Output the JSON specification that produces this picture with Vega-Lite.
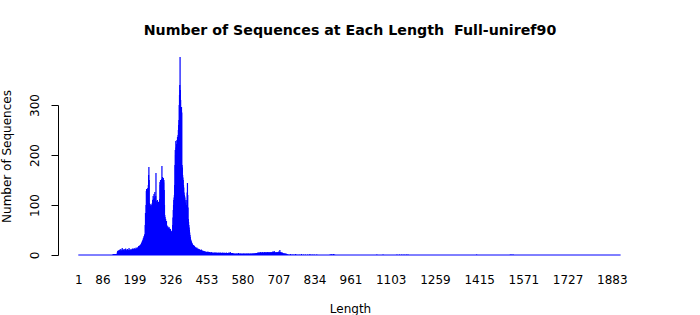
{
"$schema":"https://vega.github.io/schema/vega-lite/v6.json",
"autosize":{"type":"none"},
"padding":{"left":58,"top":105,"right":58,"bottom":60},
"width":584,
"height":150,
"config":{"font":"DejaVu Sans","view":{"stroke":null},"background":"white"},
"title":{"text":"Number of Sequences at Each Length\u00a0 Full-uniref90","fontSize":14.2,"fontWeight":"bold","color":"black","anchor":"middle","offset":19},
"layer":[
{"data":{"values":[{"from":1,"to":1914}]},
 "mark":{"type":"rule","color":"#0000ff","strokeWidth":1},
 "encoding":{"x":{"field":"from","type":"quantitative","scale":{"domain":[-70.6,1989.4],"nice":false,"zero":false,"padding":0}},"x2":{"field":"to"},"y":{"datum":0,"type":"quantitative"}}},
{"data":{"values":[
{"len":124,"n":2},{"len":125,"n":1},{"len":126,"n":2},{"len":127,"n":2},{"len":128,"n":1},{"len":129,"n":2},{"len":130,"n":2},{"len":131,"n":1},{"len":132,"n":2},{"len":133,"n":2},{"len":134,"n":1},{"len":135,"n":2},{"len":136,"n":2},{"len":137,"n":2},{"len":138,"n":3},
{"len":139,"n":6},{"len":140,"n":8},{"len":141,"n":7},{"len":142,"n":9},{"len":143,"n":6},{"len":144,"n":8},{"len":145,"n":10},{"len":146,"n":7},{"len":147,"n":9},{"len":148,"n":11},{"len":149,"n":8},{"len":150,"n":7},{"len":151,"n":12},{"len":152,"n":9},{"len":153,"n":6},{"len":154,"n":8},{"len":155,"n":10},{"len":156,"n":14},{"len":157,"n":9},{"len":158,"n":7},{"len":159,"n":8},{"len":160,"n":11},{"len":161,"n":6},{"len":162,"n":9},{"len":163,"n":12},{"len":164,"n":8},{"len":165,"n":7},{"len":166,"n":10},{"len":167,"n":9},{"len":168,"n":13},{"len":169,"n":8},{"len":170,"n":7},{"len":171,"n":9},{"len":172,"n":11},{"len":173,"n":8},{"len":174,"n":10},{"len":175,"n":12},{"len":176,"n":7},{"len":177,"n":9},{"len":178,"n":8},{"len":179,"n":10},{"len":180,"n":14},{"len":181,"n":9},{"len":182,"n":8},{"len":183,"n":11},{"len":184,"n":10},{"len":185,"n":7},{"len":186,"n":9},{"len":187,"n":12},{"len":188,"n":10},{"len":189,"n":8},{"len":190,"n":11},{"len":191,"n":9},{"len":192,"n":13},{"len":193,"n":10},{"len":194,"n":8},{"len":195,"n":12},{"len":196,"n":11},{"len":197,"n":9},{"len":198,"n":14},{"len":199,"n":12},{"len":200,"n":10},{"len":201,"n":11},{"len":202,"n":13},{"len":203,"n":12},{"len":204,"n":10},{"len":205,"n":15},{"len":206,"n":12},{"len":207,"n":11},{"len":208,"n":14},{"len":209,"n":13},{"len":210,"n":12},{"len":211,"n":15},
{"len":212,"n":16},{"len":213,"n":14},{"len":214,"n":18},{"len":215,"n":17},{"len":216,"n":15},{"len":217,"n":19},{"len":218,"n":18},{"len":219,"n":16},{"len":220,"n":20},{"len":221,"n":19},{"len":222,"n":22},{"len":223,"n":18},{"len":224,"n":24},{"len":225,"n":21},
{"len":226,"n":26},{"len":227,"n":28},{"len":228,"n":25},{"len":229,"n":30},{"len":230,"n":33},{"len":231,"n":29},{"len":232,"n":35},{"len":233,"n":38},{"len":234,"n":34},{"len":235,"n":40},{"len":236,"n":42},
{"len":237,"n":60},{"len":238,"n":84},{"len":239,"n":80},{"len":240,"n":100},
{"len":241,"n":128},{"len":242,"n":132},{"len":243,"n":120},{"len":244,"n":131},{"len":245,"n":126},{"len":246,"n":134},{"len":247,"n":129},{"len":248,"n":140},
{"len":249,"n":160},{"len":250,"n":176},{"len":251,"n":150},
{"len":252,"n":104},{"len":253,"n":96},{"len":254,"n":100},{"len":255,"n":92},{"len":256,"n":98},{"len":257,"n":102},{"len":258,"n":90},{"len":259,"n":95},{"len":260,"n":100},{"len":261,"n":93},{"len":262,"n":104},
{"len":263,"n":110},{"len":264,"n":106},{"len":265,"n":118},{"len":266,"n":112},{"len":267,"n":104},{"len":268,"n":122},{"len":269,"n":108},{"len":270,"n":115},{"len":271,"n":126},{"len":272,"n":110},{"len":273,"n":105},{"len":274,"n":118},
{"len":275,"n":164},
{"len":276,"n":108},{"len":277,"n":100},{"len":278,"n":96},{"len":279,"n":104},{"len":280,"n":110},{"len":281,"n":98},{"len":282,"n":94},{"len":283,"n":102},{"len":284,"n":106},{"len":285,"n":97},{"len":286,"n":100},{"len":287,"n":108},{"len":288,"n":112},
{"len":289,"n":146},{"len":290,"n":140},{"len":291,"n":150},{"len":292,"n":142},{"len":293,"n":148},{"len":294,"n":138},{"len":295,"n":152},{"len":296,"n":178},
{"len":297,"n":150},{"len":298,"n":156},{"len":299,"n":144},{"len":300,"n":148},{"len":301,"n":154},{"len":302,"n":145},{"len":303,"n":150},{"len":304,"n":130},{"len":305,"n":100},
{"len":306,"n":80},{"len":307,"n":76},{"len":308,"n":70},{"len":309,"n":72},{"len":310,"n":66},{"len":311,"n":64},{"len":312,"n":68},{"len":313,"n":60},{"len":314,"n":58},
{"len":315,"n":55},{"len":316,"n":52},{"len":317,"n":57},{"len":318,"n":50},{"len":319,"n":54},{"len":320,"n":51},{"len":321,"n":56},{"len":322,"n":49},{"len":323,"n":53},{"len":324,"n":50},{"len":325,"n":48},{"len":326,"n":52},
{"len":327,"n":46},{"len":328,"n":48},{"len":329,"n":45},{"len":330,"n":47},{"len":331,"n":44},{"len":332,"n":48},{"len":333,"n":50},
{"len":334,"n":60},{"len":335,"n":75},{"len":336,"n":90},{"len":337,"n":100},{"len":338,"n":110},{"len":339,"n":115},{"len":340,"n":120},{"len":341,"n":140},
{"len":342,"n":180},{"len":343,"n":210},{"len":344,"n":200},{"len":345,"n":228},
{"len":346,"n":215},{"len":347,"n":210},{"len":348,"n":222},{"len":349,"n":230},{"len":350,"n":218},{"len":351,"n":236},{"len":352,"n":232},
{"len":353,"n":240},{"len":354,"n":250},{"len":355,"n":260},{"len":356,"n":270},{"len":357,"n":300},{"len":358,"n":320},{"len":359,"n":340},
{"len":360,"n":396},{"len":361,"n":330},{"len":362,"n":310},{"len":363,"n":295},{"len":364,"n":290},{"len":365,"n":296},{"len":366,"n":285},
{"len":367,"n":180},{"len":368,"n":175},{"len":369,"n":160},{"len":370,"n":155},
{"len":371,"n":150},{"len":372,"n":140},{"len":373,"n":135},{"len":374,"n":125},{"len":375,"n":120},{"len":376,"n":118},{"len":377,"n":115},
{"len":378,"n":110},{"len":379,"n":105},{"len":380,"n":100},{"len":381,"n":98},{"len":382,"n":95},{"len":383,"n":100},{"len":384,"n":110},
{"len":385,"n":125},{"len":386,"n":144},{"len":387,"n":120},{"len":388,"n":95},
{"len":389,"n":72},{"len":390,"n":66},{"len":391,"n":60},{"len":392,"n":55},{"len":393,"n":50},{"len":394,"n":45},{"len":395,"n":40},
{"len":396,"n":36},{"len":397,"n":32},{"len":398,"n":30},{"len":399,"n":28},{"len":400,"n":26},{"len":401,"n":25},{"len":402,"n":24},{"len":403,"n":22},{"len":404,"n":21},{"len":405,"n":20},
{"len":406,"n":19},{"len":407,"n":18},{"len":408,"n":20},{"len":409,"n":17},{"len":410,"n":16},{"len":411,"n":18},{"len":412,"n":15},{"len":413,"n":16},{"len":414,"n":14},{"len":415,"n":15},{"len":416,"n":13},{"len":417,"n":14},{"len":418,"n":12},{"len":419,"n":15},{"len":420,"n":13},{"len":421,"n":12},{"len":422,"n":11},{"len":423,"n":13},{"len":424,"n":12},{"len":425,"n":10},{"len":426,"n":11},{"len":427,"n":12},{"len":428,"n":10},{"len":429,"n":11},{"len":430,"n":10},
{"len":431,"n":9},{"len":432,"n":10},{"len":433,"n":8},{"len":434,"n":9},{"len":435,"n":11},{"len":436,"n":8},{"len":437,"n":9},{"len":438,"n":7},{"len":439,"n":8},{"len":440,"n":9},{"len":441,"n":7},{"len":442,"n":8},
{"len":443,"n":6},{"len":444,"n":7},{"len":445,"n":5},{"len":446,"n":6},{"len":447,"n":8},{"len":448,"n":5},{"len":449,"n":6},{"len":450,"n":4},{"len":451,"n":7},{"len":452,"n":5},{"len":453,"n":6},{"len":454,"n":5},{"len":455,"n":4},{"len":456,"n":6},{"len":457,"n":5},{"len":458,"n":7},{"len":459,"n":4},{"len":460,"n":5},{"len":461,"n":6},{"len":462,"n":4},{"len":463,"n":5},{"len":464,"n":6},{"len":465,"n":4},{"len":466,"n":5},{"len":467,"n":3},{"len":468,"n":5},{"len":469,"n":4},{"len":470,"n":6},{"len":471,"n":4},{"len":472,"n":5},{"len":473,"n":3},{"len":474,"n":4},{"len":475,"n":5},{"len":476,"n":3},{"len":477,"n":4},
{"len":478,"n":4},{"len":479,"n":5},{"len":480,"n":3},{"len":481,"n":4},{"len":482,"n":5},{"len":483,"n":4},{"len":484,"n":3},{"len":485,"n":5},{"len":486,"n":4},{"len":487,"n":3},{"len":488,"n":4},{"len":489,"n":5},{"len":490,"n":3},{"len":491,"n":4},{"len":492,"n":4},{"len":493,"n":3},{"len":494,"n":5},{"len":495,"n":4},{"len":496,"n":3},{"len":497,"n":4},{"len":498,"n":5},{"len":499,"n":3},{"len":500,"n":4},{"len":501,"n":3},{"len":502,"n":4},{"len":503,"n":5},{"len":504,"n":3},{"len":505,"n":4},{"len":506,"n":3},{"len":507,"n":4},{"len":508,"n":3},{"len":509,"n":5},{"len":510,"n":4},{"len":511,"n":3},{"len":512,"n":4},{"len":513,"n":3},{"len":514,"n":4},{"len":515,"n":5},{"len":516,"n":3},{"len":517,"n":4},{"len":518,"n":3},{"len":519,"n":4},{"len":520,"n":3},{"len":521,"n":4},{"len":522,"n":3},{"len":523,"n":5},{"len":524,"n":4},{"len":525,"n":3},{"len":526,"n":4},{"len":527,"n":3},{"len":528,"n":4},{"len":529,"n":3},{"len":530,"n":4},{"len":531,"n":3},{"len":532,"n":5},{"len":533,"n":4},{"len":534,"n":3},{"len":535,"n":4},{"len":536,"n":3},{"len":537,"n":6},{"len":538,"n":4},{"len":539,"n":3},{"len":540,"n":4},{"len":541,"n":3},{"len":542,"n":4},{"len":543,"n":3},{"len":544,"n":3},{"len":545,"n":4},{"len":546,"n":3},{"len":547,"n":3},
{"len":548,"n":3},{"len":549,"n":2},{"len":550,"n":2},{"len":551,"n":3},{"len":552,"n":2},{"len":553,"n":3},{"len":554,"n":2},{"len":555,"n":2},{"len":556,"n":3},{"len":557,"n":2},{"len":558,"n":2},{"len":559,"n":3},{"len":560,"n":2},{"len":561,"n":3},{"len":562,"n":2},{"len":563,"n":2},{"len":564,"n":3},{"len":565,"n":2},{"len":566,"n":4},{"len":567,"n":2},{"len":568,"n":3},{"len":569,"n":2},{"len":570,"n":2},{"len":571,"n":3},{"len":572,"n":2},{"len":573,"n":3},{"len":574,"n":2},{"len":575,"n":2},{"len":576,"n":3},{"len":577,"n":2},{"len":578,"n":2},{"len":579,"n":3},{"len":580,"n":2},{"len":581,"n":2},{"len":582,"n":3},{"len":583,"n":2},{"len":584,"n":3},{"len":585,"n":2},{"len":586,"n":2},{"len":587,"n":3},{"len":588,"n":2},{"len":589,"n":2},{"len":590,"n":3},{"len":591,"n":2},{"len":592,"n":2},{"len":593,"n":3},{"len":594,"n":2},{"len":595,"n":3},{"len":596,"n":2},{"len":597,"n":2},{"len":598,"n":3},{"len":599,"n":2},{"len":600,"n":2},{"len":601,"n":3},{"len":602,"n":2},{"len":603,"n":3},{"len":604,"n":2},{"len":605,"n":2},{"len":606,"n":3},{"len":607,"n":2},{"len":608,"n":2},{"len":609,"n":3},{"len":610,"n":2},{"len":611,"n":3},{"len":612,"n":2},{"len":613,"n":2},{"len":614,"n":3},{"len":615,"n":2},{"len":616,"n":3},{"len":617,"n":2},{"len":618,"n":3},{"len":619,"n":2},{"len":620,"n":3},{"len":621,"n":3},{"len":622,"n":2},{"len":623,"n":3},{"len":624,"n":3},{"len":625,"n":2},{"len":626,"n":3},{"len":627,"n":3},{"len":628,"n":4},{"len":629,"n":3},{"len":630,"n":3},{"len":631,"n":4},
{"len":632,"n":4},{"len":633,"n":3},{"len":634,"n":5},{"len":635,"n":4},{"len":636,"n":3},{"len":637,"n":5},{"len":638,"n":4},{"len":639,"n":4},{"len":640,"n":5},{"len":641,"n":3},{"len":642,"n":4},{"len":643,"n":6},{"len":644,"n":4},{"len":645,"n":5},{"len":646,"n":3},{"len":647,"n":4},{"len":648,"n":5},{"len":649,"n":4},{"len":650,"n":6},{"len":651,"n":4},{"len":652,"n":5},{"len":653,"n":3},{"len":654,"n":4},{"len":655,"n":5},{"len":656,"n":4},{"len":657,"n":6},{"len":658,"n":5},{"len":659,"n":4},{"len":660,"n":3},{"len":661,"n":5},{"len":662,"n":4},{"len":663,"n":6},{"len":664,"n":5},{"len":665,"n":4},{"len":666,"n":5},{"len":667,"n":3},{"len":668,"n":4},{"len":669,"n":6},{"len":670,"n":5},{"len":671,"n":4},{"len":672,"n":5},{"len":673,"n":4},{"len":674,"n":6},{"len":675,"n":5},{"len":676,"n":4},{"len":677,"n":3},{"len":678,"n":5},{"len":679,"n":4},{"len":680,"n":6},{"len":681,"n":5},{"len":682,"n":4},{"len":683,"n":5},{"len":684,"n":6},{"len":685,"n":4},{"len":686,"n":5},{"len":687,"n":7},{"len":688,"n":5},{"len":689,"n":4},{"len":690,"n":6},{"len":691,"n":5},{"len":692,"n":8},{"len":693,"n":5},{"len":694,"n":4},{"len":695,"n":6},{"len":696,"n":5},{"len":697,"n":4},{"len":698,"n":5},{"len":699,"n":3},{"len":700,"n":4},{"len":701,"n":6},{"len":702,"n":5},{"len":703,"n":4},{"len":704,"n":5},{"len":705,"n":6},{"len":706,"n":4},{"len":707,"n":5},{"len":708,"n":7},{"len":709,"n":5},{"len":710,"n":4},{"len":711,"n":6},{"len":712,"n":10},{"len":713,"n":6},{"len":714,"n":5},{"len":715,"n":4},{"len":716,"n":6},{"len":717,"n":5},{"len":718,"n":4},{"len":719,"n":3},{"len":720,"n":4},{"len":721,"n":5},{"len":722,"n":3},{"len":723,"n":4},
{"len":724,"n":3},{"len":725,"n":2},{"len":726,"n":3},{"len":727,"n":3},{"len":728,"n":2},{"len":729,"n":3},{"len":730,"n":2},{"len":731,"n":3},{"len":732,"n":2},{"len":733,"n":2},{"len":734,"n":3},{"len":735,"n":2},{"len":736,"n":2},{"len":737,"n":1},
{"len":740,"n":2},{"len":745,"n":1},{"len":750,"n":2},{"len":756,"n":1},{"len":761,"n":1},{"len":767,"n":2},{"len":772,"n":1},{"len":780,"n":1},{"len":788,"n":2},{"len":795,"n":1},{"len":802,"n":1},{"len":810,"n":1},{"len":818,"n":2},{"len":826,"n":1},{"len":833,"n":1},{"len":842,"n":1},
{"len":889,"n":1},{"len":893,"n":2},{"len":897,"n":1},{"len":901,"n":2},{"len":905,"n":1},
{"len":1054,"n":1},{"len":1076,"n":1},{"len":1125,"n":1},{"len":1134,"n":1},{"len":1142,"n":1},{"len":1150,"n":1},{"len":1158,"n":1},{"len":1164,"n":1},{"len":1406,"n":1},{"len":1525,"n":1},{"len":1530,"n":1},{"len":1535,"n":1}
]},
 "mark":{"type":"bar","color":"#0000ff","size":1.2},
 "encoding":{
  "x":{"field":"len","type":"quantitative","title":"Length",
       "scale":{"domain":[-70.6,1989.4],"nice":false,"zero":false,"padding":0},
       "axis":{"values":[1,86,199,326,453,580,707,834,961,1103,1259,1415,1571,1727,1883],"format":"d","domain":false,"ticks":false,"tickSize":0,"grid":false,"labelPadding":19,"labelFontSize":12,"labelColor":"black","labelFlush":false,"labelOverlap":false,"titleFontSize":12,"titleFontWeight":"normal","titleColor":"black","titlePadding":18}},
  "y":{"field":"n","type":"quantitative","title":"Number of Sequences",
       "scale":{"domain":[0,300],"nice":false},
       "axis":{"values":[0,100,200,300],"format":"d","grid":false,"domainColor":"black","tickColor":"black","tickSize":7,"labelAngle":-90,"labelAlign":"center","labelBaseline":"middle","labelPadding":17,"labelFontSize":12,"labelColor":"black","labelFlush":false,"titleFontSize":12,"titleFontWeight":"normal","titleColor":"black","titlePadding":14.5,"titleY":51}}
 }}
]
}
